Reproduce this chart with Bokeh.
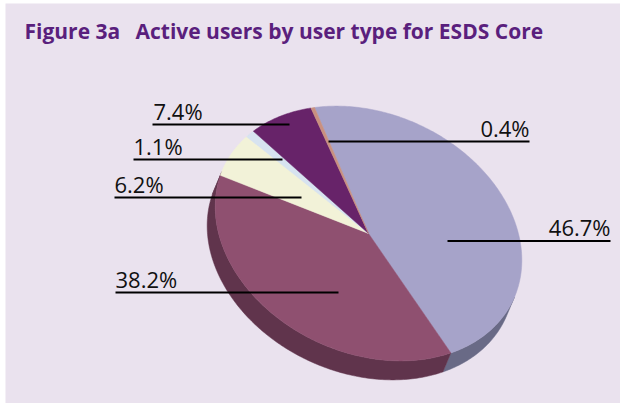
import math
from bokeh.plotting import figure
from bokeh.models import Range1d
from bokeh.core.properties import value
from bokeh.embed import file_html
from bokeh.resources import INLINE

# ---- data
categories = ["a", "b", "c", "d", "e", "f"]
shares = [46.7, 38.2, 6.2, 1.1, 7.4, 0.4]
labels = ["46.7%", "38.2%", "6.2%", "1.1%", "7.4%", "0.4%"]
top_colors = ["#A6A3C9", "#8F5070", "#F2F2D8", "#D7E3F0", "#672369", "#C9907F"]
side_colors = ["#696A86", "#60344C", "#60344C", "#60344C", "#60344C", "#60344C"]

# ---- layout (page pixels)
leader_y = [240.5, 292, 197, 159, 124, 141]
leader_x0 = [447, 115, 114, 133, 152, 328]
leader_x1 = [610, 338, 301, 282, 289, 529]
label_x = [610, 115, 114, 133, 153, 529]
label_align = ["right", "left", "left", "left", "left", "right"]
TITLE_A = "Figure 3a"
TITLE_B = "Active users by user type for ESDS Core"

CX, CY = 368, 233
UX, UY = -54, -126      # projected radius at start angle
WX, WY = 143.5, -18.8   # projected radius a quarter turn later
DX, DY = -8, 19         # extrusion

X0, Y0, W, H = 5, 3, 615, 400

p = figure(width=W + X0, height=H + Y0, x_range=Range1d(X0, X0 + W), y_range=Range1d(Y0 + H, Y0),
           output_backend="svg", toolbar_location=None, min_border=0,
           min_border_left=X0, min_border_top=Y0,
           background_fill_color="#EAE2EE", border_fill_color="white")
p.axis.visible = False
p.grid.visible = False
p.outline_line_color = None


def pt(theta):
    return (CX + UX * math.cos(theta) + WX * math.sin(theta),
            CY + UY * math.cos(theta) + WY * math.sin(theta))


det = UX * WY - UY * WX
alpha = (DX * WY - DY * WX) / det
beta = (UX * DY - UY * DX) / det


def faces_viewer(theta):
    return alpha * math.cos(theta) + beta * math.sin(theta) > 0


total = sum(shares)
cum = 0.0
arcs = []
angles = []
for s in shares:
    a0 = cum / total * 2 * math.pi
    a1 = (cum + s) / total * 2 * math.pi
    cum += s
    n = max(4, int(s * 4))
    th = [a0 + (a1 - a0) * i / n for i in range(n + 1)]
    angles.append(th)
    arcs.append([pt(t) for t in th])

side_xs, side_ys, side_c, top_xs, top_ys = [], [], [], [], []
for arc, th, col in zip(arcs, angles, side_colors):
    vis = [q for q, t in zip(arc, th) if faces_viewer(t)]
    if len(vis) >= 2:
        side_xs.append([q[0] for q in vis] + [q[0] + DX for q in reversed(vis)])
        side_ys.append([q[1] for q in vis] + [q[1] + DY for q in reversed(vis)])
        side_c.append(col)
    top_xs.append([CX] + [q[0] for q in arc])
    top_ys.append([CY] + [q[1] for q in arc])

p.patches(side_xs, side_ys, fill_color=side_c, line_color=side_c, line_width=0.5)
p.patches(top_xs, top_ys, fill_color=top_colors, line_color=top_colors, line_width=0.5)

for y, x0, x1 in zip(leader_y, leader_x0, leader_x1):
    p.line([x0, x1], [y, y], line_color="black", line_width=2)

for t, x, y, al in zip(labels, label_x, leader_y, label_align):
    p.text([x], [y + 1], text=[t], text_align=al, text_baseline="bottom",
           text_font=value("Open Sans"), text_font_size="22px", text_color="#111111")

p.text([24], [30.5], text=[TITLE_A], text_baseline="middle", text_font=value("Open Sans"),
       text_font_style="bold", text_font_size="21px", text_color="#5A1F7D")
p.text([135], [30.5], text=[TITLE_B], text_baseline="middle", text_font=value("Open Sans"),
       text_font_style="bold", text_font_size="21px", text_color="#5A1F7D")

open("out.html", "w").write(file_html(p, INLINE))
